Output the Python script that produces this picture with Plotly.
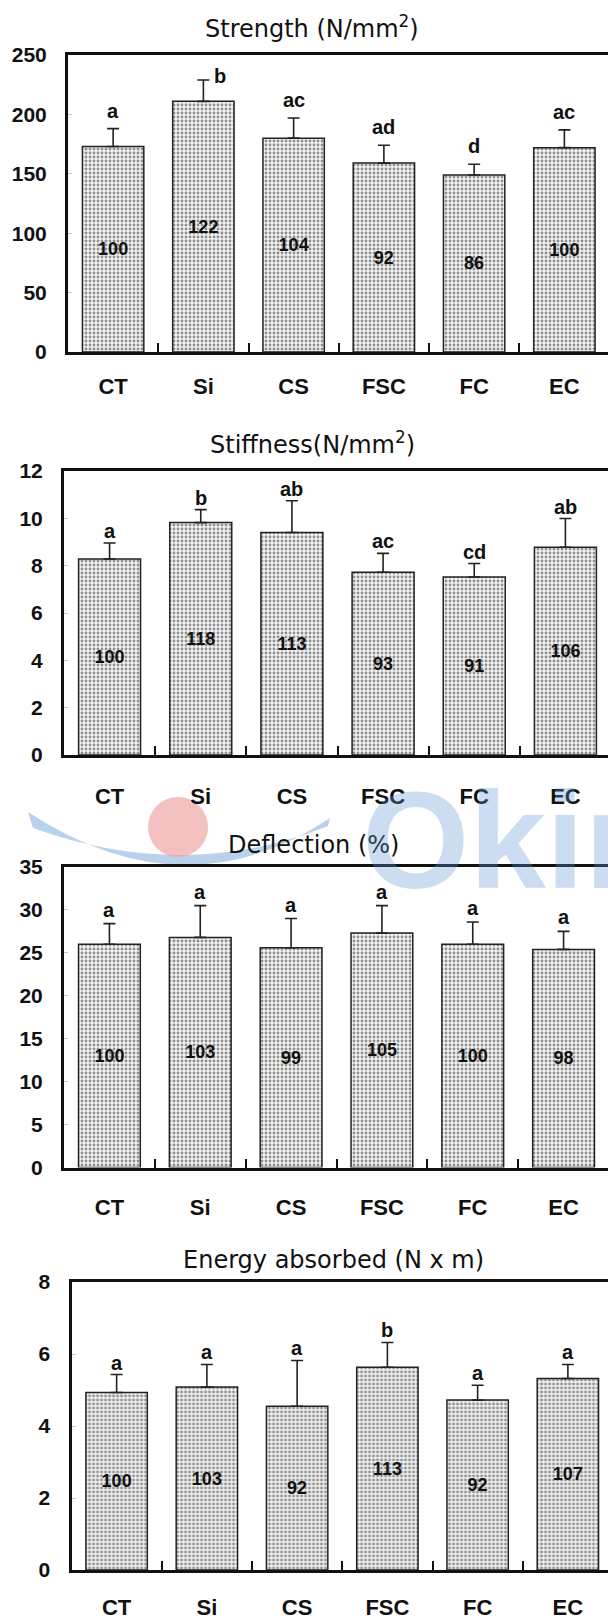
import plotly.graph_objects as go

W, H = 608, 1621

categories = ["CT", "Si", "CS", "FSC", "FC", "EC"]

strength_mean = [173, 211, 180, 159, 149, 172]
strength_sd = [15, 18, 17, 15, 9, 15]
strength_pct = [100, 122, 104, 92, 86, 100]
strength_sig = ["a", "b", "ac", "ad", "d", "ac"]

stiffness_mean = [8.28, 9.82, 9.40, 7.72, 7.52, 8.78]
stiffness_sd = [0.68, 0.55, 1.34, 0.80, 0.57, 1.21]
stiffness_pct = [100, 118, 113, 93, 91, 106]
stiffness_sig = ["a", "b", "ab", "ac", "cd", "ab"]

deflection_mean = [26.0, 26.8, 25.6, 27.3, 26.0, 25.4]
deflection_sd = [2.4, 3.7, 3.4, 3.2, 2.6, 2.1]
deflection_pct = [100, 103, 99, 105, 100, 98]
deflection_sig = ["a", "a", "a", "a", "a", "a"]

energy_mean = [4.93, 5.08, 4.55, 5.63, 4.72, 5.32]
energy_sd = [0.50, 0.63, 1.27, 0.69, 0.41, 0.39]
energy_pct = [100, 103, 92, 113, 92, 107]
energy_sig = ["a", "a", "a", "b", "a", "a"]

# panel layout in pixels: left/right = category band edges, top/bottom = y range ends
panels = [
    dict(title="Strength (N/mm<sup>2</sup>)", mean=strength_mean, sd=strength_sd,
         pct=strength_pct, sig=strength_sig, ymax=250, dtick=50,
         left=68, right=609.5, top=55, bottom=352, title_xy=(312, 27),
         sig_gap=18, xlab_standoff=13, sig_offsets={1: (17, 4)}),
    dict(title="Stiffness(N/mm<sup>2</sup>)", mean=stiffness_mean, sd=stiffness_sd,
         pct=stiffness_pct, sig=stiffness_sig, ymax=12, dtick=2,
         left=64, right=611, top=471, bottom=755, title_xy=(312, 443),
         sig_gap=12, xlab_standoff=20, sig_offsets={}),
    dict(title="Deflection (%)", mean=deflection_mean, sd=deflection_sd,
         pct=deflection_pct, sig=deflection_sig, ymax=35, dtick=5,
         left=64, right=609, top=867, bottom=1167.5, title_xy=(313, 845),
         sig_gap=14, xlab_standoff=18, sig_offsets={}),
    dict(title="Energy absorbed (N x m)", mean=energy_mean, sd=energy_sd,
         pct=energy_pct, sig=energy_sig, ymax=8, dtick=2,
         left=71.5, right=613, top=1282, bottom=1570, title_xy=(333, 1260),
         sig_gap=12, xlab_standoff=16, sig_offsets={}),
]

TXT = "#111111"
FONT_B = dict(family="Liberation Sans", color=TXT, weight="bold")


def fx(px):
    return px / W


def fy(py):
    return 1 - py / H


fig = go.Figure()
annotations = []
layout_axes = {}

for i, p in enumerate(panels, start=1):
    s = "" if i == 1 else str(i)
    xa, ya = "x" + s, "y" + s
    band = (p["right"] - p["left"]) / 6.0
    xmax = -0.5 + (W - p["left"]) / band

    fig.add_trace(go.Bar(
        x=categories, y=p["mean"], xaxis=xa, yaxis=ya,
        width=0.68,
        marker=dict(
            color="white",
            line=dict(color="#222222", width=1.5),
            pattern=dict(shape=".", fgcolor="#2a2a2a", bgcolor="#f2f2f2",
                         size=4, solidity=0.4),
        ),
        error_y=dict(type="data", symmetric=False, array=p["sd"],
                     arrayminus=[0] * len(p["sd"]), color="#222222",
                     thickness=1.6, width=6),
        text=[str(v) for v in p["pct"]],
        textposition="inside", insidetextanchor="middle", textangle=0,
        textfont=dict(family="Liberation Sans", size=18, color=TXT, weight="bold"),
        showlegend=False, hoverinfo="skip",
    ))

    layout_axes["xaxis" + s] = dict(
        domain=[fx(p["left"]), 1], range=[-0.5, xmax], type="category",
        showline=True, mirror=True, linecolor=TXT, linewidth=3,
        ticks="inside", tickson="boundaries", ticklen=9, tickwidth=2,
        tickcolor=TXT, showgrid=False, zeroline=False, automargin=False,
        tickfont=dict(size=22, **FONT_B), ticklabelstandoff=p["xlab_standoff"],
        anchor=ya, fixedrange=True,
    )
    layout_axes["yaxis" + s] = dict(
        domain=[fy(p["bottom"]), fy(p["top"])], range=[0, p["ymax"]],
        dtick=p["dtick"], tick0=0,
        showline=True, mirror=True, linecolor=TXT, linewidth=3,
        ticks="inside", ticklen=4, tickwidth=1, tickcolor="#c8c8c8",
        showgrid=False, zeroline=False, automargin=False,
        tickfont=dict(size=21, **FONT_B), ticklabelstandoff=14,
        anchor=xa, fixedrange=True,
    )

    tx, ty = p["title_xy"]
    annotations.append(dict(
        text=p["title"], x=fx(tx), y=fy(ty), xref="paper", yref="paper",
        xanchor="center", yanchor="middle", showarrow=False,
        font=dict(family="DejaVu Sans", size=24, color=TXT),
    ))

    for j, (cat, m, e, lab) in enumerate(zip(categories, p["mean"], p["sd"], p["sig"])):
        dx, dy = p["sig_offsets"].get(j, (0, p["sig_gap"]))
        annotations.append(dict(
            text=lab, x=cat, y=m + e, xref=xa, yref=ya,
            xanchor="center", yanchor="middle", xshift=dx, yshift=dy,
            showarrow=False, font=dict(size=20, **FONT_B),
        ))

# faint site watermark across the third panel heading
shapes = [
    dict(type="path", xref="paper", yref="paper", layer="below",
         path=(f"M {fx(28)} {fy(812)} Q {fx(185)} {fy(915)} {fx(330)} {fy(818)} "
               f"L {fx(328)} {fy(826)} Q {fx(185)} {fy(883)} {fx(33)} {fy(828)} Z"),
         fillcolor="rgba(140,178,222,0.6)", line=dict(width=0)),
    dict(type="circle", xref="paper", yref="paper", layer="below",
         x0=fx(148), x1=fx(208), y0=fy(857), y1=fy(797),
         fillcolor="rgba(238,160,160,0.65)", line=dict(width=0)),
]
annotations.append(dict(
    text="Okin", x=fx(360), y=fy(840), xref="paper", yref="paper",
    xanchor="left", yanchor="middle", showarrow=False,
    font=dict(family="Liberation Sans", size=138, color="rgba(100,150,210,0.32)",
              weight="bold"),
))

fig.update_layout(
    width=W, height=H, margin=dict(l=0, r=0, t=0, b=0, autoexpand=False),
    paper_bgcolor="white", plot_bgcolor="rgba(0,0,0,0)",
    annotations=annotations, shapes=shapes, bargap=0.3,
    **layout_axes,
)

fig.write_html("out.html")
